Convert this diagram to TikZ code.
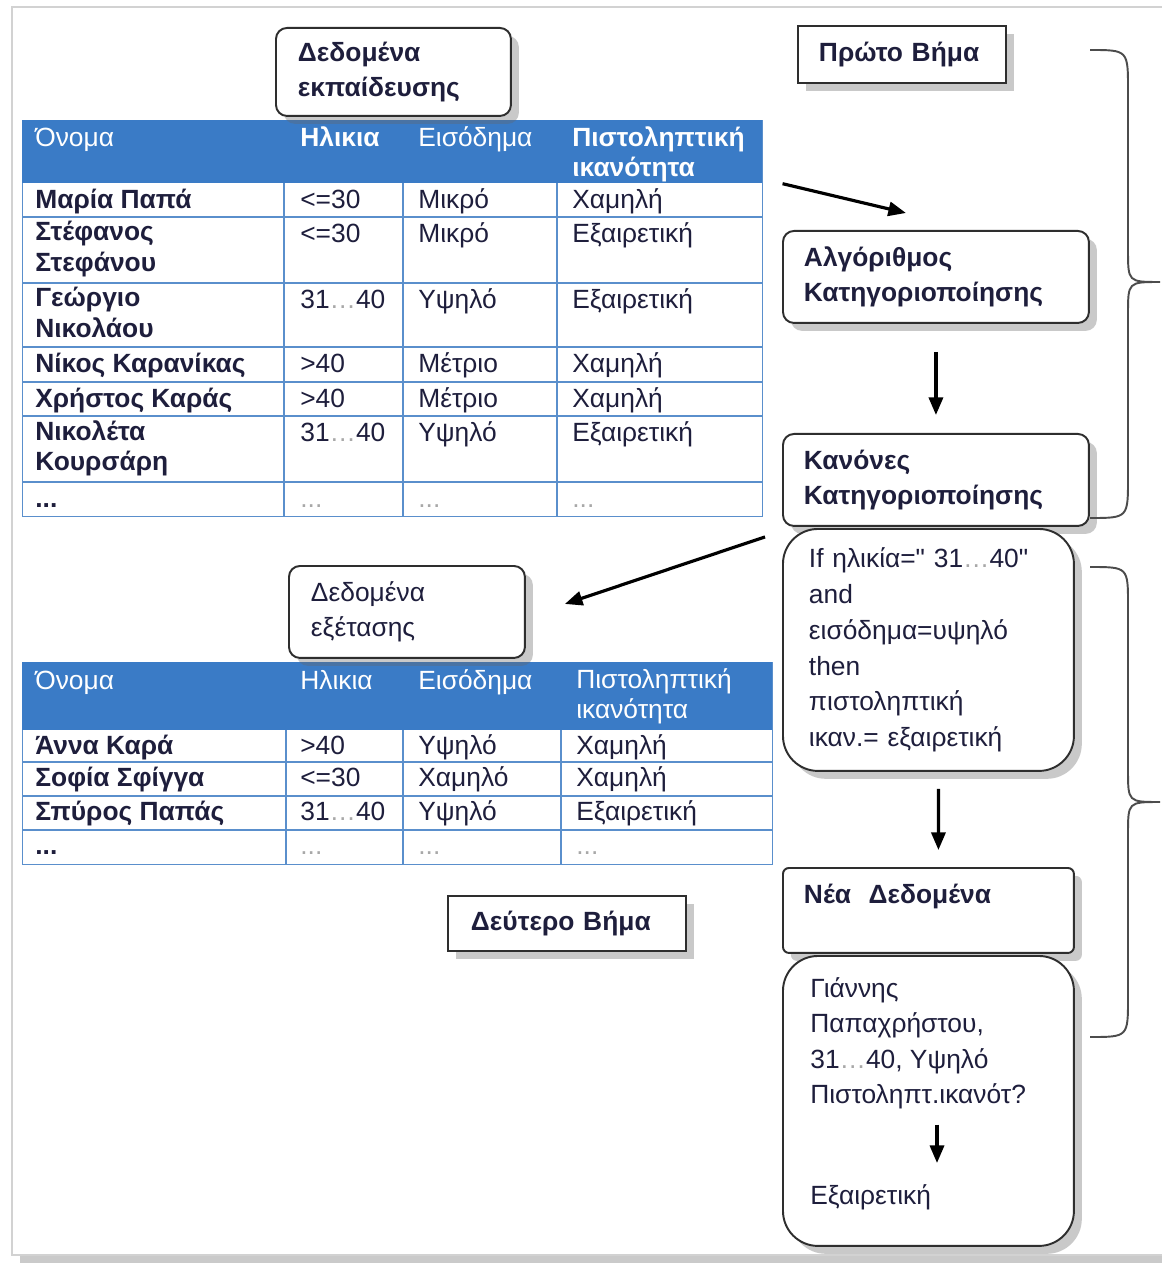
\documentclass[tikz,border=0pt]{standalone}
\usepackage{fontspec}
\setmainfont{Liberation Sans}
\usetikzlibrary{arrows.meta, positioning, calc, shadows}
\definecolor{HdrBlue}  {HTML}{3A7BC6}
\definecolor{GridBlue} {HTML}{5A8FCC}
\definecolor{CellTxt}  {HTML}{1E1E3C}
\definecolor{DotGray}  {HTML}{A8A8A8}
\definecolor{BoxLine}  {HTML}{2E2E2E}
\definecolor{FrameGray}{HTML}{D2D2D2}
\newcommand{\grdots}{\textcolor{DotGray}{...}}
\newcommand{\namedots}{...}
\newcommand{\agerange}{31\textcolor{DotGray}{…}40}

\begin{document}
\begin{tikzpicture}[x=0.02cm, y=-0.02cm,
  every node/.style={font=\fontsize{15}{17.5}\selectfont, text=CellTxt},
  shad/.style={drop shadow={shadow xshift=4.5pt, shadow yshift=-4.5pt,
               opacity=0.35, fill=black!60}},
  mbox/.style={draw=BoxLine, line width=1.1pt, fill=white, shad,
               anchor=north west, align=left, inner xsep=0.42cm, inner ysep=0pt,
               font=\fontsize{15}{20}\selectfont},
  rbox/.style={mbox, rounded corners=0.22cm},
  cbox/.style={mbox, rounded corners=0.7cm},
  bbox/.style={font=\fontsize{15}{20}\selectfont\bfseries},
  cell/.style={anchor=north west, inner sep=0pt, align=left,
               execute at begin node=\strut},
  namecell/.style={cell, font=\fontsize{15}{17.5}\selectfont\bfseries},
  hcell/.style={cell, text=white},
  hbold/.style={hcell, font=\fontsize{15}{17.5}\selectfont\bfseries},
  grid/.style={draw=GridBlue, line width=0.8pt},
  arr/.style={-{Triangle[length=10pt, width=8pt]}, line width=1.8pt},
  brace/.style={draw=black!70, line width=1.1pt},
]
  \useasboundingbox (0,0) rectangle (1161,1266);
  \fill[white, shad] (12,7) rectangle (1190,1255);
  \draw[FrameGray, line width=1.2pt] (12,7) rectangle (1190,1255);

  % training table
  \node[grid, fill=white, anchor=north west, minimum width=14.8cm,
        minimum height=7.92cm, inner sep=0pt] (tabA) at (22,120) {};
  \node[fill=HdrBlue, anchor=north west, minimum width=14.8cm,
        minimum height=1.26cm, inner sep=0pt] (hdrA) at (22,120) {};
  \foreach \y in {217,283,347,382,416,482}
    \draw[grid] (22,\y) -- (762,\y);
  \foreach \x in {284,403,557}
    \draw[grid] (\x,183) -- (\x,516);
  \node[hcell] (hA1) at (35,125) {Όνομα};
  \node[hbold] (hA2) at (300,125) {Ηλικια};
  \node[hcell] (hA3) at (418,125) {Εισόδημα};
  \node[hbold] (hA4) at (572,126) {Πιστοληπτική\\ικανότητα};
  \foreach \t/\a/\b/\c/\d [count=\i] in {
      183/Μαρία Παπά/<=30/Μικρό/Χαμηλή,
      217/Στέφανος\\Στεφάνου/<=30/Μικρό/Εξαιρετική,
      283/Γεώργιο\\Νικολάου/\agerange/Υψηλό/Εξαιρετική,
      347/Νίκος Καρανίκας/>40/Μέτριο/Χαμηλή,
      382/Χρήστος Καράς/>40/Μέτριο/Χαμηλή,
      416/Νικολέτα\\Κουρσάρη/\agerange/Υψηλό/Εξαιρετική,
      482/\namedots/\grdots/\grdots/\grdots}{
    \node[namecell] (nA\i) at (35,\t+4) {\a};
    \node[cell] (aA\i) at (300,\t+4) {\b};
    \node[cell] (iA\i) at (418,\t+4) {\c};
    \node[cell] (cA\i) at (572,\t+4) {\d};
  }

  % test table
  \node[grid, fill=white, anchor=north west, minimum width=15cm,
        minimum height=4.04cm, inner sep=0pt] (tabB) at (22,662) {};
  \node[fill=HdrBlue, anchor=north west, minimum width=15cm,
        minimum height=1.36cm, inner sep=0pt] (hdrB) at (22,662) {};
  \foreach \y in {762,796,830}
    \draw[grid] (22,\y) -- (772,\y);
  \foreach \x in {286,403,561}
    \draw[grid] (\x,730) -- (\x,864);
  \node[hcell] (hB1) at (35,668) {Όνομα};
  \node[hcell] (hB2) at (300,668) {Ηλικια};
  \node[hcell] (hB3) at (418,668) {Εισόδημα};
  \node[hcell] (hB4) at (576,668) {Πιστοληπτική\\ικανότητα};
  \foreach \t/\a/\b/\c/\d [count=\i] in {
      730/Άννα Καρά/>40/Υψηλό/Χαμηλή,
      762/Σοφία Σφίγγα/<=30/Χαμηλό/Χαμηλή,
      796/Σπύρος Παπάς/\agerange/Υψηλό/Εξαιρετική,
      830/\namedots/\grdots/\grdots/\grdots}{
    \node[namecell] (nB\i) at (35,\t+3) {\a};
    \node[cell] (aB\i) at (300,\t+3) {\b};
    \node[cell] (iB\i) at (418,\t+3) {\c};
    \node[cell] (cB\i) at (576,\t+3) {\d};
  }

  % boxes
  \node[rbox, bbox, minimum height=1.76cm, text width=3.82cm,
        inner xsep=0.44cm] (trainlbl) at (275,27) {Δεδομένα\\εκπαίδευσης};
  \node[mbox, bbox, minimum height=1.14cm, text width=3.32cm]
        (step1) at (797,25) {Πρώτο Βήμα};
  \node[rbox, bbox, minimum height=1.84cm, text width=5.28cm]
        (alg) at (782,230) {Αλγόριθμος\\Κατηγοριοποίησης};
  \node[rbox, bbox, minimum height=1.84cm, text width=5.28cm]
        (rules) at (782,433) {Κανόνες\\Κατηγοριοποίησης};
  \node[cbox, minimum height=4.84cm, text width=4.78cm, inner xsep=0.52cm,
        font=\fontsize{15}{20.4}\selectfont] (ifthen) at (782,528)
        {If ηλικία=\textquotedbl\ \agerange\textquotedbl\\and\\εισόδημα=υψηλό\\then\\πιστοληπτική\\ικαν.= εξαιρετική};
  \node[mbox, bbox, rounded corners=0.12cm, text width=4.98cm,
        text height=0.72cm, text depth=0.98cm] (newdata) at (782,867)
        {Νέα\ \ Δεδομένα};
  \node[cbox, minimum width=5.82cm, minimum height=5.8cm] (qbox) at (782,955) {};
  \node[cell, font=\fontsize{15}{20.2}\selectfont] (query) at (810,977)
        {Γιάννης\\Παπαχρήστου,\\\agerange, Υψηλό\\Πιστοληπτ.ικανότ?};
  \node[cell] (answer) at (810,1183) {Εξαιρετική};
  \node[rbox, minimum height=1.84cm, text width=3.84cm, inner xsep=0.44cm]
        (testlbl) at (288,565) {Δεδομένα\\εξέτασης};
  \node[mbox, bbox, minimum height=1.1cm, text width=3.84cm, inner xsep=0.46cm]
        (step2) at (447,895) {Δεύτερο Βήμα};

  % arrows
  \draw[arr] ($(hdrA.south east)+(20,0)$) -- ($(alg.north)+(-30,-17)$);
  \draw[arr, shorten <=0.56cm, shorten >=0.36cm] (alg.south) -- (rules.north);
  \draw[arr] ($(rules.south west)+(-17,10)$) -- ($(testlbl.east)+(39,-8)$);
  \draw[arr, shorten <=0.34cm, shorten >=0.34cm]
        ([xshift=0.2cm]ifthen.south) -- ([xshift=0.2cm]newdata.north);
  \draw[arr] ($(query.south west)+(127,10)$) -- ($(answer.north west)+(127,-20)$);

  % braces
  \draw[brace] (1090,50) .. controls (1128,50) .. (1128,90) -- (1128,250)
        .. controls (1128,282) .. (1160,282) .. controls (1128,282) .. (1128,314)
        -- (1128,478) .. controls (1128,518) .. (1090,518);
  \draw[brace] (1090,567) .. controls (1128,567) .. (1128,605) -- (1128,770)
        .. controls (1128,802) .. (1160,802) .. controls (1128,802) .. (1128,834)
        -- (1128,998) .. controls (1128,1037) .. (1090,1037);
\end{tikzpicture}
\end{document}
